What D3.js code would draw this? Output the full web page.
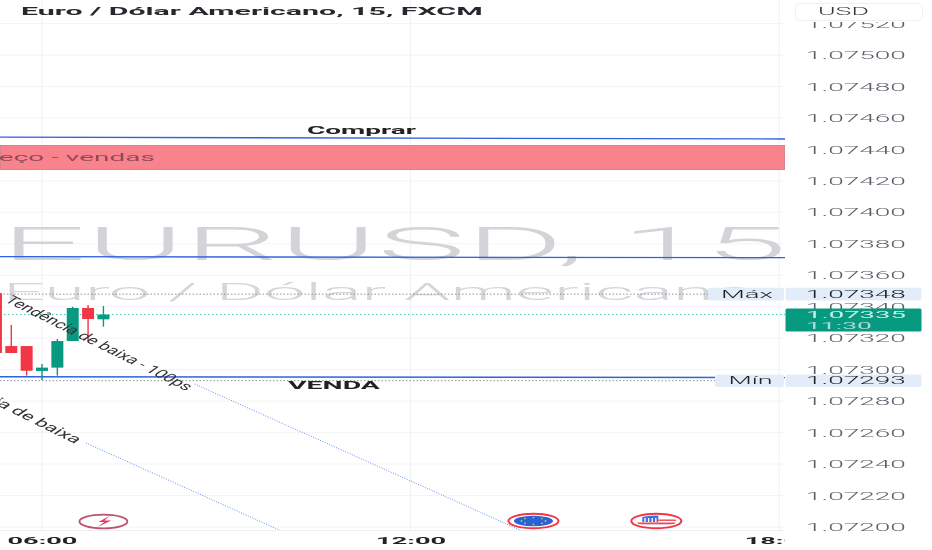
<!DOCTYPE html>
<html><head><meta charset="utf-8">
<style>html,body{margin:0;padding:0;background:#fff}svg{display:block;filter:blur(.35px)}text{font-family:Roboto,"Liberation Sans",sans-serif}</style>
<script src="https://cdn.jsdelivr.net/npm/d3@7"></script></head><body><svg id="c" width="932" height="550"></svg>
<script>
const candleTimes=["05:15","05:30","05:45","06:00","06:15","06:30","06:45","07:00"];
const opens =[1.073487,1.07315,1.07315,1.072992,1.073013,1.073182,1.073392,1.07332];
const closes=[1.073106,1.073106,1.072993,1.073013,1.073182,1.073392,1.073322,1.07335];
const highs =[1.073487,1.073284,1.07315,1.073036,1.073195,1.0734,1.073411,1.073405];
const lows  =[1.073106,1.073106,1.072962,1.072934,1.072962,1.073182,1.073176,1.073273];
const priceTicks=[1.0752,1.075,1.0748,1.0746,1.0744,1.0742,1.074,1.0738,1.0736,1.0734,1.0732,1.073,1.0728,1.0726,1.0724,1.0722,1.072];
const timeTicks=["06:00","12:00","18:00"];
const buyLevel=[1.074478,1.074466];
const midLevel=[1.073718,1.073712];
const sellLevel=[1.072955,1.07295];
const zonePrices=[1.074425,1.074272];
const trendA=[["08:29",1.072909],["13:47",1.07198]];
const trendB=[["06:43",1.072534],["09:52",1.07198]];
const maxPrice=1.07348,minPrice=1.07293,lastPrice=1.07335;
const eventTimes=["07:00","14:00","16:00"];

const W=932,H=550,plotR=785,axisY=530;
const svg=d3.select("#c");
const t=s=>new Date(Date.UTC(2024,0,1,+s.slice(0,2),+s.slice(3)));
const x=d3.scaleUtc().domain([t("06:00"),t("12:00")]).range([42,410.6]);
const y=d3.scaleLinear().domain([1.072,1.075]).range([527,55]);
const defs=svg.append("defs");
defs.append("clipPath").attr("id","plot").append("rect").attr("width",plotR).attr("height",axisY);
defs.append("clipPath").attr("id","timeclip").append("rect").attr("y",axisY).attr("width",plotR).attr("height",H-axisY);
defs.append("clipPath").attr("id","priceclip").append("rect").attr("x",plotR).attr("y",22).attr("width",W-plotR).attr("height",H-22);

function put(sel,px,py,width,anchor){
  sel.attr("text-anchor","start").attr("x",0).attr("y",0).attr("dy",null);
  const n=sel.node(),w=n.getComputedTextLength(),sx=width/w;
  const left=anchor==="middle"?px-width/2:anchor==="end"?px-width:px;
  sel.attr("transform",`translate(${left},${py}) scale(${sx},1)`);
  return sel;
}
function txt(parent,s,size,weight,fill){
  return parent.append("text").text(s).attr("font-size",size).attr("font-weight",weight).attr("fill",fill);
}

const plot=svg.append("g").attr("clip-path","url(#plot)");
plot.append("g").selectAll("line").data(priceTicks).join("line")
 .attr("x1",0).attr("x2",plotR).attr("y1",d=>y(d)).attr("y2",d=>y(d)).attr("stroke","#f4f4f6");
plot.append("g").selectAll("line").data(timeTicks).join("line")
 .attr("x1",d=>x(t(d))).attr("x2",d=>x(t(d))).attr("y1",0).attr("y2",axisY).attr("stroke","#eff0f2");

put(txt(plot,"EURUSD, 15",46,300,"#d2d4d8"),1,260,786);
put(txt(plot,"Euro / Dólar Americano",24,300,"#d4d6da"),3,300,752);

plot.append("rect").attr("x",0).attr("width",plotR).attr("y",y(zonePrices[0])).attr("height",y(zonePrices[1])-y(zonePrices[0]))
 .attr("fill","#f8838d").attr("stroke","#a08a8e").attr("stroke-width",.8);
put(txt(plot,"Preço - vendas",10.5,400,"#8f4a58"),155,161,183,"end");

plot.append("line").attr("x1",0).attr("x2",708).attr("y1",y(maxPrice)).attr("y2",y(maxPrice)).attr("stroke","#8f9198").attr("stroke-dasharray","1.5 2");
plot.append("line").attr("x1",0).attr("x2",715).attr("y1",y(minPrice)).attr("y2",y(minPrice)).attr("stroke","#8f9198").attr("stroke-dasharray","1.5 2");
plot.append("line").attr("x1",0).attr("x2",plotR).attr("y1",y(lastPrice)).attr("y2",y(lastPrice)).attr("stroke","#3dbfae").attr("stroke-dasharray","1.5 2.5");

[buyLevel,midLevel,sellLevel].forEach(l=>{
 plot.append("line").attr("x1",0).attr("x2",plotR).attr("y1",y(l[0])).attr("y2",y(l[1])).attr("stroke","#2f62e0").attr("stroke-width",1.3);
});
put(txt(plot,"Comprar",11,700,"#222"),307,134,109);
put(txt(plot,"VENDA",11,700,"#222"),288,389,92);

[trendA,trendB].forEach(l=>{
 plot.append("line").attr("x1",x(t(l[0][0]))).attr("y1",y(l[0][1])).attr("x2",x(t(l[1][0]))).attr("y2",y(l[1][1]))
  .attr("stroke","#5f8df0").attr("stroke-width",1).attr("stroke-dasharray","1 1.5");
});

const step=x(t("06:15"))-x(t("06:00")),bw=step*.78;
const candles=plot.append("g").selectAll("g").data(candleTimes).join("g");
const col=i=>closes[i]>=opens[i]?"#089981":"#f23645";
candles.append("line").attr("x1",d=>x(t(d))).attr("x2",d=>x(t(d)))
 .attr("y1",(d,i)=>y(highs[i])).attr("y2",(d,i)=>y(lows[i])).attr("stroke",(d,i)=>col(i)).attr("stroke-width",1.4);
candles.append("rect").attr("x",d=>x(t(d))-bw/2).attr("width",bw)
 .attr("y",(d,i)=>y(Math.max(opens[i],closes[i])))
 .attr("height",(d,i)=>Math.max(1,Math.abs(y(opens[i])-y(closes[i]))))
 .attr("fill",(d,i)=>col(i));

function slanted(s,ex,ey,size,width){
 const g=plot.append("g").attr("transform",`translate(${ex},${ey}) scale(1.7,1) rotate(40)`);
 g.append("text").text(s).attr("text-anchor","end").attr("font-size",size).attr("fill","#333").attr("textLength",width).attr("lengthAdjust","spacingAndGlyphs");
}
slanted("Tendência de baixa - 100ps",186,391,11.5,140);
slanted("Tendência de baixa",75,444,11.5,115);

const ev=plot.append("g");
const e0=x(t(eventTimes[0])),e1=x(t(eventTimes[1])),e2=x(t(eventTimes[2]));
ev.append("ellipse").attr("cx",e0).attr("cy",521.5).attr("rx",24).attr("ry",6.8).attr("fill","#fff").attr("stroke","#b8556e").attr("stroke-width",1.8);
ev.append("path").attr("d",`M${e0+6} 516L${e0-5} 522H${e0+1}L${e0-6} 527L${e0+8} 520.5H${e0+1}Z`).attr("fill","#d8405a");
[e1,e2].forEach(c=>ev.append("ellipse").attr("cx",c).attr("cy",521).attr("rx",25).attr("ry",7.2).attr("fill","#fff").attr("stroke","#f23645").attr("stroke-width",2));
ev.append("ellipse").attr("cx",e1).attr("cy",521).attr("rx",19.5).attr("ry",5.3).attr("fill","#2a62d6");
ev.append("g").selectAll("circle").data(d3.range(8)).join("circle")
 .attr("cx",i=>e1+12*Math.cos(i*Math.PI/4)).attr("cy",i=>521+3.4*Math.sin(i*Math.PI/4)).attr("r",.9).attr("fill","#d9b84a");
ev.append("defs").append("clipPath").attr("id","usa").append("ellipse").attr("cx",e2).attr("cy",521).attr("rx",20).attr("ry",5.6);
const us=ev.append("g").attr("clip-path","url(#usa)");
us.append("rect").attr("x",e2-20).attr("y",515).attr("width",40).attr("height",12).attr("fill","#fff");
us.append("rect").attr("x",e2-14).attr("y",515).attr("width",16).attr("height",7).attr("fill","#3f6fe0");
us.append("g").selectAll("rect").data(d3.range(4)).join("rect").attr("x",i=>e2-12+i*3.6).attr("y",518).attr("width",1.4).attr("height",4).attr("fill","#fff");
us.append("rect").attr("x",e2-20).attr("y",522.5).attr("width",40).attr("height",1.8).attr("fill","#e8475a");
us.append("rect").attr("x",e2+2).attr("y",519.5).attr("width",18).attr("height",1.4).attr("fill","#e8475a");

svg.append("line").attr("x1",0).attr("x2",plotR).attr("y1",axisY+.5).attr("y2",axisY+.5).attr("stroke","#eceef1");
const tg=svg.append("g").attr("clip-path","url(#timeclip)").append("g").attr("transform",`translate(0,${axisY})`)
 .call(d3.axisBottom(x).tickValues(timeTicks.map(t)).tickSize(0).tickFormat(d3.utcFormat("%H:%M")));
tg.select(".domain").remove();
tg.selectAll("text").attr("font-size",9.5).attr("font-weight",700).attr("fill","#222").attr("font-family",null)
 .each(function(){const s=d3.select(this);const w=this.getComputedTextLength();s.attr("text-anchor","start").attr("y",0).attr("dy",null).attr("x",0)
   .attr("transform",`translate(-35,13.5) scale(${70/w},1)`);});

const pg=svg.append("g").attr("clip-path","url(#priceclip)").append("g").attr("transform",`translate(${plotR},0)`)
 .call(d3.axisRight(y).tickValues(priceTicks).tickSize(0).tickFormat(d3.format(".5f")));
pg.select(".domain").remove();
pg.selectAll("text").attr("font-size",10).attr("font-weight",300).attr("fill","#5c5f6a").attr("font-family",null)
 .each(function(){const s=d3.select(this);const w=this.getComputedTextLength();s.attr("text-anchor","start").attr("x",0).attr("y",0).attr("dy",null)
   .attr("transform",`translate(21,3.6) scale(${100/w},1)`);});

function tag(price,lab,lx,lw){
 const cy=y(price);
 svg.append("rect").attr("x",lx).attr("y",cy-6.3).attr("width",lw).attr("height",12.6).attr("rx",2).attr("fill","#e3edf9");
 svg.append("rect").attr("x",plotR+.5).attr("y",cy-6.3).attr("width",136).attr("height",12.6).attr("rx",2).attr("fill","#e3edf9");
 put(txt(svg,lab,10,300,"#222"),lx+lw/2+1,cy+3.7,lab==="Máx"?52:44,"middle");
 put(txt(svg,d3.format(".5f")(price),10,300,"#222"),plotR+21,cy+3.7,100);
}
tag(maxPrice,"Máx",708,76);
tag(minPrice,"Mín",715,69);
const ly=y(lastPrice);
svg.append("rect").attr("x",plotR+.5).attr("y",ly-6).attr("width",136).attr("height",23).attr("rx",1.5).attr("fill","#089981");
put(txt(svg,d3.format(".5f")(lastPrice),9.5,400,"#cdeee6"),plotR+21,ly+3.5,100);
put(txt(svg,"11:30",9,400,"#a9ddd1"),plotR+21,ly+14,66);

put(txt(svg,"Euro / Dólar Americano, 15, FXCM",10.5,700,"#26282e"),21,15,462);
svg.append("rect").attr("x",795.5).attr("y",3.5).attr("width",127).attr("height",17).attr("rx",4).attr("fill","#fff").attr("stroke","#eff1f4");
put(txt(svg,"USD",10,300,"#33353d"),818,15,51);
</script></body></html>
